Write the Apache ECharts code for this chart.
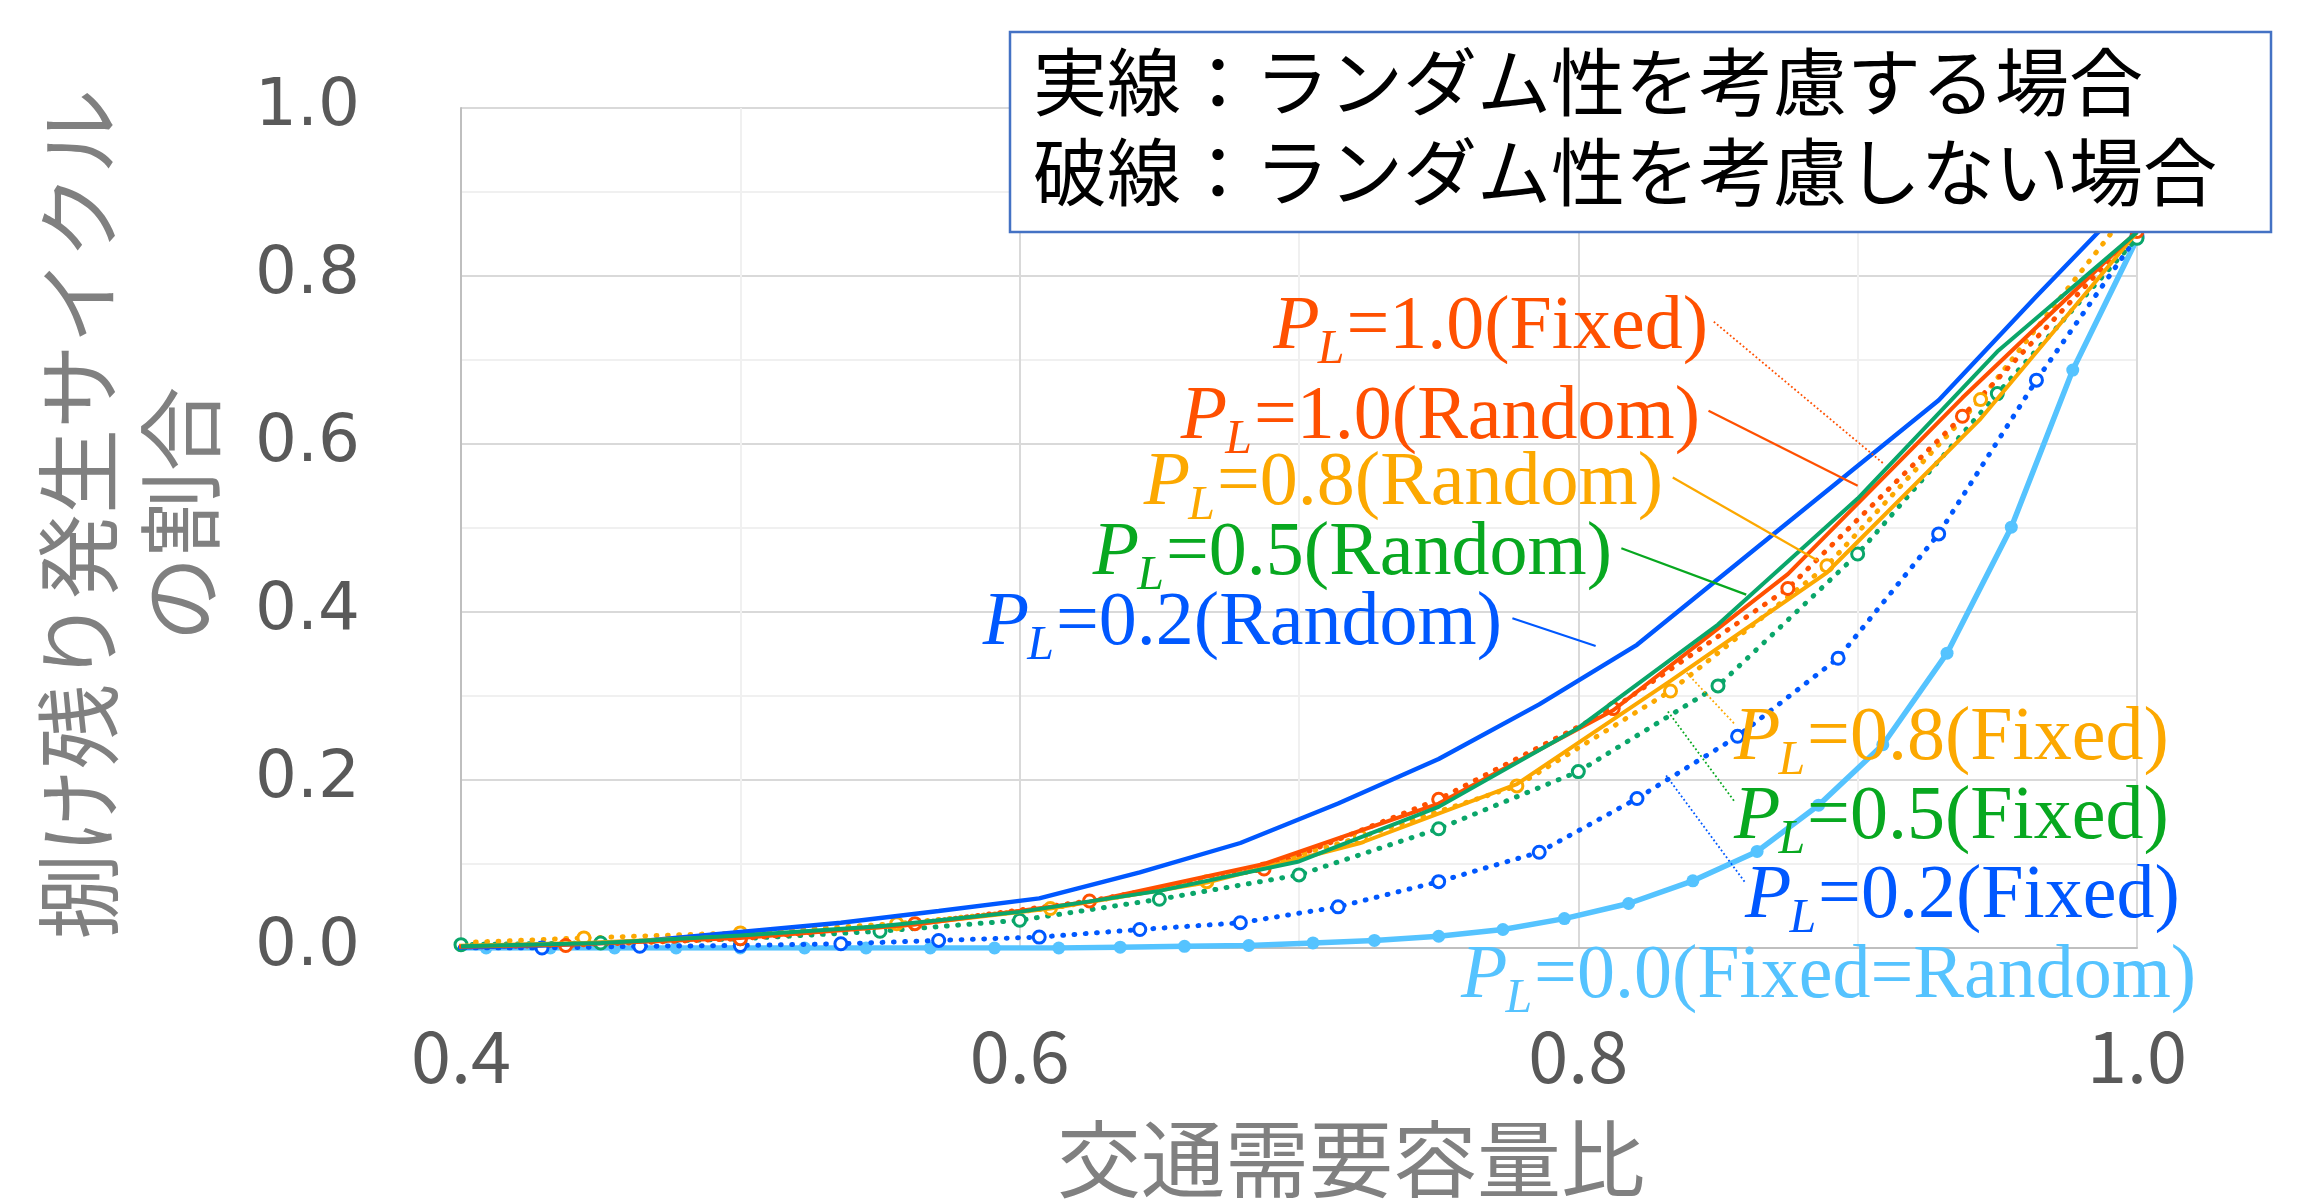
<!DOCTYPE html>
<html><head><meta charset="utf-8">
<script src="https://cdn.jsdelivr.net/npm/echarts@6/dist/echarts.min.js"></script>
<style>html,body{margin:0;padding:0;background:#fff}#c{width:2302px;height:1200px}</style>
</head><body><div id="c"></div>
<script>
// ---- data ----
// x = traffic demand / capacity ratio, sampled per P_L
const xP00 = [0.386,0.409,0.432,0.455,0.477,0.500,0.523,0.545,0.568,0.591,0.614,0.636,0.659,0.682,0.705,0.727,0.750,0.773,0.795,0.818,0.841,0.864,0.886,0.909,0.932,0.955,0.977,1.000];
const yP00 = [0,0,0,0,0,0,0,0,0,0.000,0.000,0.001,0.002,0.003,0.006,0.009,0.014,0.022,0.035,0.053,0.080,0.115,0.170,0.242,0.351,0.501,0.688,0.844];

const xP02 = [0.393,0.429,0.464,0.500,0.536,0.571,0.607,0.643,0.679,0.714,0.750,0.786,0.821,0.857,0.893,0.929,0.964,1.000];
const yP02Fixed  = [0,0.000,0.002,0.003,0.005,0.009,0.013,0.022,0.030,0.049,0.079,0.114,0.178,0.252,0.345,0.493,0.676,0.847];
const yP02Random = [0,0.003,0.008,0.019,0.030,0.044,0.059,0.090,0.125,0.172,0.225,0.290,0.361,0.458,0.555,0.652,0.776,0.900];

const xP05 = [0.40,0.45,0.50,0.55,0.60,0.65,0.70,0.75,0.80,0.85,0.90,0.95,1.00];
const yP05Fixed  = [0.004,0.006,0.011,0.020,0.033,0.058,0.087,0.142,0.210,0.312,0.469,0.660,0.845];
const yP05Random = [0.002,0.006,0.015,0.026,0.043,0.068,0.103,0.168,0.262,0.385,0.535,0.710,0.852];

const xP08 = [0.389,0.444,0.500,0.556,0.611,0.667,0.722,0.778,0.833,0.889,0.944,1.000];
const yP08Fixed  = [0.005,0.012,0.018,0.029,0.047,0.079,0.132,0.193,0.306,0.455,0.653,0.890];
const yP08Random = [0.002,0.006,0.014,0.026,0.047,0.078,0.125,0.195,0.318,0.447,0.630,0.852];

const xP10 = [0.375,0.4375,0.500,0.5625,0.625,0.6875,0.750,0.8125,0.875,0.9375,1.000];
const yP10Fixed  = [0.000,0.003,0.011,0.029,0.056,0.094,0.177,0.285,0.428,0.633,0.853];
const yP10Random = [0.000,0.004,0.012,0.028,0.055,0.100,0.172,0.283,0.445,0.655,0.853];

const xTicks = [0.4,0.6,0.8,1.0];
const yTicks = [0.0,0.2,0.4,0.6,0.8,1.0];

const xTitle = '交通需要容量比';
const yTitle1 = '捌け残り発生サイクル';
const yTitle2 = 'の割合';
const legendLine1 = '実線：ランダム性を考慮する場合';
const legendLine2 = '破線：ランダム性を考慮しない場合';

// leader lines (data coordinates: start near label, end near curve)
const leaderP10F = [[0.8485,0.7456],[0.9095,0.576]];
const leaderP10R = [[0.8466,0.6396],[0.900,0.5504]];
const leaderP08R = [[0.8338,0.5601],[0.8858,0.461]];
const leaderP05R = [[0.8154,0.476],[0.8601,0.4207]];
const leaderP02R = [[0.7764,0.3925],[0.8062,0.3595]];
const leaderP08F = [[0.8557,0.2675],[0.8384,0.329]];
const leaderP05F = [[0.8557,0.1754],[0.8317,0.2833]];
const leaderP02F = [[0.8595,0.079],[0.8313,0.206]];

// ---- styles ----
const C_OR = '#FF5000', C_AM = '#FCA800', C_GRL = '#0AA66A', C_GRT = '#08A820', C_BL = '#0058FF', C_LB = '#55C3FF';
const DOT = [0.8, 10.5];

function zip(xs, ys){ return xs.map((x,i)=>[x, ys[i]]); }

function solid(name, xs, ys, color, w){
  return {name, type:'line', data: zip(xs,ys), showSymbol:false, symbol:'none',
    lineStyle:{color, width:w||4}, itemStyle:{color}, emphasis:{disabled:true}, silent:true, z:3};
}
function dotted(name, xs, ys, color){
  return {name, type:'line', data: zip(xs,ys), showSymbol:true, symbol:'circle', symbolSize:12,
    lineStyle:{color, width:5, type:DOT, cap:'round'},
    itemStyle:{color:'#ffffff', borderColor:color, borderWidth:3},
    emphasis:{disabled:true}, silent:true, z:2};
}
function leader(pts, color, isDotted){
  return {type:'line', data: pts, symbol:'none', silent:true, emphasis:{disabled:true}, z:4,
    lineStyle: isDotted ? {color, width:1.8, type:[1.8,2.4]} : {color, width:2.2}};
}

const series = [
  {name:'P0', type:'line', data: zip(xP00,yP00), showSymbol:true, symbol:'circle', symbolSize:13,
    lineStyle:{color:C_LB, width:5.5}, itemStyle:{color:C_LB}, emphasis:{disabled:true}, silent:true, z:1},
  dotted('P02F', xP02, yP02Fixed, C_BL),
  dotted('P05F', xP05, yP05Fixed, C_GRL),
  dotted('P08F', xP08, yP08Fixed, C_AM),
  dotted('P10F', xP10, yP10Fixed, C_OR),
  solid('P02R', xP02, yP02Random, C_BL, 4.4),
  solid('P08R', xP08, yP08Random, C_AM),
  solid('P10R', xP10, yP10Random, C_OR),
  solid('P05R', xP05, yP05Random, C_GRL),
  leader(leaderP10F, C_OR, true),
  leader(leaderP10R, C_OR, false),
  leader(leaderP08R, C_AM, false),
  leader(leaderP05R, C_GRT, false),
  leader(leaderP02R, C_BL, false),
  leader(leaderP08F, C_AM, true),
  leader(leaderP05F, C_GRT, true),
  leader(leaderP02F, C_BL, true)
];

// ---- annotation labels: P (italic) + subscript L (italic, lowered) + rest ----
const SERIF = 'Liberation Serif';
const MAIN_FS = 76, SUB_FS = 48, SUB_DROP = 22;
const mctx = document.createElement('canvas').getContext('2d');
function tw(txt, fs, italic){ mctx.font = (italic ? 'italic ' : '') + fs + 'px "' + SERIF + '"'; return mctx.measureText(txt).width; }
function lab(x, y, align, val, paren, color){
  const rest = '=' + val + '(' + paren + ')';
  const wP = tw('P', MAIN_FS, true), wL = tw('L', SUB_FS, true), wR = tw(rest, MAIN_FS, false);
  const W = wP + wL + wR;
  const x0 = align === 'right' ? x - W : x;
  const base = {fontFamily:SERIF, fill:color, align:'left', verticalAlign:'middle'};
  return {type:'group', z:120, silent:true, children:[
    {type:'text', x:x0, y:y, z:120, style:Object.assign({text:'P', fontSize:MAIN_FS, fontStyle:'italic'}, base)},
    {type:'text', x:x0 + wP - 2, y:y + SUB_DROP, z:120, style:Object.assign({text:'L', fontSize:SUB_FS, fontStyle:'italic'}, base)},
    {type:'text', x:x0 + wP + wL, y:y, z:120, style:Object.assign({text:rest, fontSize:MAIN_FS}, base)}
  ]};
}

const CJK = '"Noto Sans CJK JP", "Noto Sans CJK SC", sans-serif';

const option = {
  animation:false,
  backgroundColor:'#ffffff',
  grid:{left:461, right:165, top:108, bottom:252, containLabel:false, outerBoundsMode:'none'},
  xAxis:{type:'value', min:0.4, max:1.0, interval:0.2,
    axisLine:{show:true, onZero:false, lineStyle:{color:'#BFBFBF', width:2}},
    axisTick:{show:false},
    minorTick:{show:false, splitNumber:2},
    splitLine:{show:true, lineStyle:{color:'#D9D9D9', width:2}},
    minorSplitLine:{show:true, lineStyle:{color:'#F0F0F0', width:2}},
    axisLabel:{margin:72, fontSize:72, fontFamily:CJK, color:'#595959', showMinLabel:true, showMaxLabel:true,
      formatter: v => { const t = xTicks.find(a=>Math.abs(a-v)<1e-6); return t===undefined ? '' : t.toFixed(1); }}
  },
  yAxis:{type:'value', min:0, max:1.0, interval:0.2,
    axisLine:{show:true, lineStyle:{color:'#BFBFBF', width:2}},
    axisTick:{show:false},
    minorTick:{show:false, splitNumber:2},
    splitLine:{show:true, lineStyle:{color:'#D9D9D9', width:2}},
    minorSplitLine:{show:true, lineStyle:{color:'#F0F0F0', width:2}},
    axisLabel:{margin:101, fontSize:66, fontFamily:'DejaVu Sans', color:'#595959', showMinLabel:true, showMaxLabel:true,
      formatter: v => { const t = yTicks.find(a=>Math.abs(a-v)<1e-6); return t===undefined ? '' : t.toFixed(1); }}
  },
  series,
  graphic:[
    {type:'rect', z:100, silent:true, shape:{x:1010, y:32, width:1261, height:200},
      style:{fill:'#ffffff', stroke:'#4472C4', lineWidth:2.5}},
    {type:'text', z:101, silent:true, x:1033, y:82, style:{text:legendLine1, fontSize:74, fontFamily:CJK, fill:'#000000', align:'left', verticalAlign:'middle'}},
    {type:'text', z:101, silent:true, x:1033, y:172, style:{text:legendLine2, fontSize:74, fontFamily:CJK, fill:'#000000', align:'left', verticalAlign:'middle'}},
    {type:'text', z:101, silent:true, x:79, y:514, rotation:Math.PI/2, style:{text:yTitle1, fontSize:85, fontFamily:CJK, fill:'#808080', align:'center', verticalAlign:'middle'}},
    {type:'text', z:101, silent:true, x:181, y:514, rotation:Math.PI/2, style:{text:yTitle2, fontSize:85, fontFamily:CJK, fill:'#808080', align:'center', verticalAlign:'middle'}},
    {type:'text', z:101, silent:true, x:1351, y:1159, style:{text:xTitle, fontSize:84, fontFamily:CJK, fill:'#808080', align:'center', verticalAlign:'middle'}},
    lab(1708, 328, 'right', '1.0', 'Fixed', C_OR),
    lab(1700, 418, 'right', '1.0', 'Random', C_OR),
    lab(1663, 484, 'right', '0.8', 'Random', C_AM),
    lab(1612, 554, 'right', '0.5', 'Random', C_GRT),
    lab(1502, 624, 'right', '0.2', 'Random', C_BL),
    lab(1734, 739, 'left', '0.8', 'Fixed', C_AM),
    lab(1734, 818, 'left', '0.5', 'Fixed', C_GRT),
    lab(1745, 897, 'left', '0.2', 'Fixed', C_BL),
    lab(1461, 977, 'left', '0.0', 'Fixed=Random', C_LB)
  ]
};

const chart = echarts.init(document.getElementById('c'), null, {renderer:'canvas', width:2302, height:1200});
chart.setOption(option);
</script>
</body></html>
